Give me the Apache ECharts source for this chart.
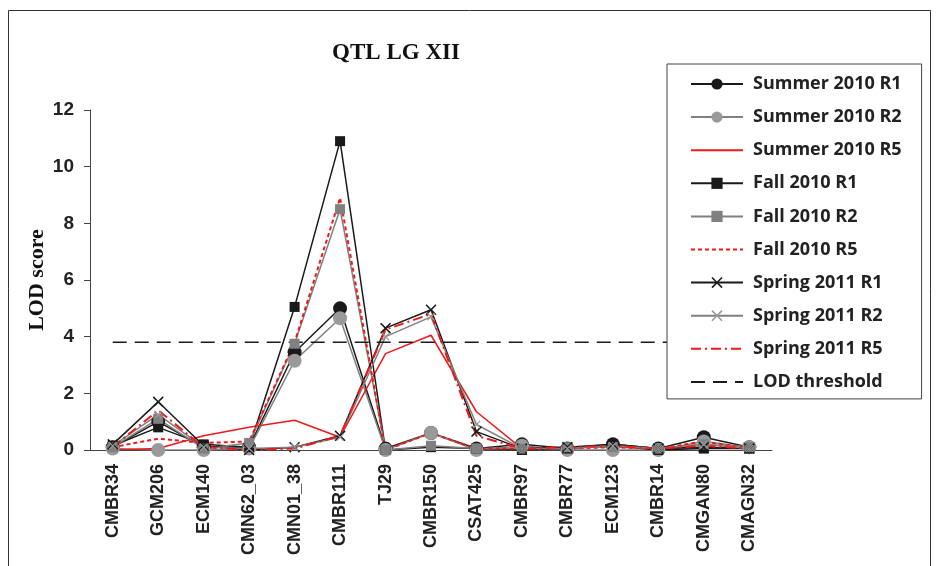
<!DOCTYPE html>
<html>
<head>
<meta charset="utf-8">
<script src="https://cdn.jsdelivr.net/npm/echarts@6/dist/echarts.min.js"></script>
<style>
  html, body { margin: 0; padding: 0; background: #fff; }
  #chart { width: 938px; height: 566px; }
</style>
</head>
<body>
<div id="chart"></div>
<script>
// markers along linkage group XII
const categories = ['CMBR34', 'GCM206', 'ECM140', 'CMN62_03', 'CMN01_38', 'CMBR111', 'TJ29',
  'CMBR150', 'CSAT425', 'CMBR97', 'CMBR77', 'ECM123', 'CMBR14', 'CMGAN80', 'CMAGN32']

const summerR1 = [0.1, 1.0, 0.1, 0.1, 3.45, 5.0, 0.05, 0.6, 0.05, 0.2, 0.05, 0.2, 0.05, 0.45, 0.1]
const summerR2 = [0.05, 0.0, 0.0, 0.05, 3.15, 4.65, 0.0, 0.6, 0.0, 0.15, 0.0, 0.0, 0.0, 0.3, 0.1]
const summerR5 = [0.0, 0.05, 0.5, 0.8, 1.05, 0.45, 3.4, 4.05, 1.35, 0.05, 0.1, 0.15, 0.05, 0.1, 0.05]
const fallR1 = [0.15, 0.8, 0.2, 0.1, 5.05, 10.9, 0.0, 0.1, 0.05, 0.0, 0.05, 0.15, 0.0, 0.05, 0.05]
const fallR2 = [0.1, 1.1, 0.05, 0.25, 3.75, 8.5, 0.0, 0.15, 0.05, 0.05, 0.1, 0.1, 0.05, 0.2, 0.1]
const fallR5 = [0.1, 0.4, 0.25, 0.3, 3.8, 8.9, 0.0, 0.6, 0.05, 0.05, 0.05, 0.1, 0.05, 0.3, 0.05]
const springR1 = [0.2, 1.7, 0.15, 0.0, 0.1, 0.5, 4.3, 4.95, 0.65, 0.05, 0.1, 0.2, 0.05, 0.1, 0.05]
const springR2 = [0.15, 1.25, 0.1, 0.05, 0.1, 0.45, 4.0, 4.7, 0.9, 0.05, 0.05, 0.15, 0.05, 0.2, 0.05]
const springR5 = [0.1, 1.4, 0.1, 0.0, 0.05, 0.5, 4.25, 4.8, 0.5, 0.05, 0.1, 0.15, 0.05, 0.15, 0.05]
const lodThreshold = 3.8

const seriesNames = ['Summer 2010 R1', 'Summer 2010 R2', 'Summer 2010 R5', 'Fall 2010 R1', 'Fall 2010 R2',
  'Fall 2010 R5', 'Spring 2011 R1', 'Spring 2011 R2', 'Spring 2011 R5', 'LOD threshold']

const crossSymbol = 'path://M0,1L1,0L5,4L9,0L10,1L6,5L10,9L9,10L5,6L1,10L0,9L4,5Z'

const BLACK = '#1a1a1a'
const GRAY = '#808080'
const LIGHT = '#9a9a9a'
const RED = '#f01818'

const chart = echarts.init(document.getElementById('chart'))

const mkLine = (name, data, color, symbol, symbolSize, markerColor, type, width) => ({
  name,
  type: 'line',
  data,
  symbol: symbol || 'none',
  symbolSize: symbolSize || 0,
  showSymbol: !!symbol,
  lineStyle: { color, width: width || 1.5, type: type || 'solid' },
  itemStyle: { color: markerColor || color },
  animation: false
})

// legend entries for plain lines must not show a marker
const noMarker = ['Summer 2010 R5', 'Fall 2010 R5', 'Spring 2011 R5', 'LOD threshold']

chart.setOption({
  backgroundColor: '#fff',
  title: {
    text: 'QTL LG XII',
    left: 391,
    top: 37,
    textAlign: 'center',
    textStyle: { fontFamily: 'Liberation Serif', fontWeight: 'bold', fontSize: 23, color: '#111' }
  },
  graphic: [{
    type: 'rect',
    shape: { x: 8.5, y: 10.5, width: 922, height: 570 },
    style: { fill: 'none', stroke: '#333', lineWidth: 1 },
    z: -1
  }],
  legend: {
    orient: 'vertical',
    left: 667,
    top: 64,
    itemWidth: 52,
    itemHeight: 14,
    itemGap: 15.1,
    padding: [11, 20, 8, 23],
    borderColor: '#444',
    borderWidth: 1,
    backgroundColor: '#fff',
    selectedMode: false,
    data: seriesNames.map(n => noMarker.includes(n) ? { name: n, itemStyle: { opacity: 0 } } : { name: n }),
    textStyle: { fontFamily: 'Open Sans', fontWeight: 'bold', fontSize: 18, color: '#222', padding: [0, 0, 0, 5] },
    z: 10
  },
  grid: { left: 90, right: 166, top: 110, bottom: 116 },
  xAxis: {
    type: 'category',
    data: categories,
    axisLine: { lineStyle: { color: '#444', width: 1 } },
    axisTick: { interval: 0, length: 6, lineStyle: { color: '#444' } },
    axisLabel: {
      interval: 0,
      rotate: 90,
      margin: 14,
      fontFamily: 'Liberation Sans',
      fontWeight: 'bold',
      fontSize: 18,
      color: '#222'
    }
  },
  yAxis: {
    type: 'value',
    min: 0,
    max: 12,
    interval: 2,
    name: 'LOD score',
    nameLocation: 'middle',
    nameGap: 42,
    nameMoveOverlap: false,
    nameTextStyle: { fontFamily: 'Liberation Serif', fontWeight: 'bold', fontSize: 22, color: '#111' },
    axisLine: { show: true, lineStyle: { color: '#444', width: 1 } },
    axisTick: { show: true, length: 6, lineStyle: { color: '#444' } },
    splitLine: { show: false },
    axisLabel: { margin: 16, fontFamily: 'Liberation Sans', fontWeight: 'bold', fontSize: 19, color: '#222' }
  },
  series: [
    mkLine(seriesNames[0], summerR1, BLACK, 'circle', 14, BLACK),
    mkLine(seriesNames[1], summerR2, GRAY, 'circle', 14, LIGHT),
    mkLine(seriesNames[2], summerR5, RED),
    mkLine(seriesNames[3], fallR1, BLACK, 'rect', 10, BLACK),
    mkLine(seriesNames[4], fallR2, GRAY, 'rect', 10, GRAY),
    mkLine(seriesNames[5], fallR5, RED, null, 0, RED, [4, 3], 2),
    mkLine(seriesNames[6], springR1, BLACK, crossSymbol, 11, BLACK),
    mkLine(seriesNames[7], springR2, GRAY, crossSymbol, 8, LIGHT),
    mkLine(seriesNames[8], springR5, RED, null, 0, RED, [10, 4, 2, 4], 2),
    mkLine(seriesNames[9], categories.map(() => lodThreshold), BLACK, null, 0, BLACK, [14, 8], 1.5)
  ]
})
</script>
</body>
</html>
